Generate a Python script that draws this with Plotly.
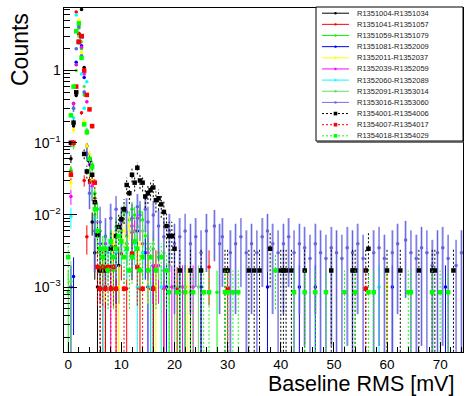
import math
import plotly.graph_objects as go

# ---------------- data (normalised counts per 0.5 mV bin) ----------------
series_names = [
    "R1351004-R1351034", "R1351041-R1351057", "R1351059-R1351079",
    "R1351081-R1352009", "R1352011-R1352037", "R1352039-R1352059",
    "R1352060-R1352089", "R1352091-R1353014", "R1353016-R1353060",
    "R1354001-R1354006", "R1354007-R1354017", "R1354018-R1354029",
]
colors = ["#000000", "#ff0000", "#00ff00", "#0000ff", "#ffff00", "#ff00ff",
          "#00ffff", "#66dd66", "#7272e6", "#000000", "#ff0000", "#00ff00"]
dashed = [False] * 9 + [True] * 3
# value of one entry in each normalised histogram
unit_weight = [1e-3, 9.5e-4, 8.5e-4, 1e-3, 1e-3, 1e-3,
               1e-3, 1e-3, 3.2e-3, 1.7e-3, 9.5e-4, 8.5e-4]

s1_x = [0.5, 1.0, 1.5, 2.0, 2.5, 3.0, 3.5, 4.0, 4.5, 5.0, 5.5, 7.0, 9.5, 16.0]
s1_y = [0.06, 0.17, 0.45, 3.2, 7.0, 1.1, 0.09, 0.03, 0.008, 0.003, 0.001, 0.001, 0.002, 0.001]

s2_x = [0.5, 1.0, 1.5, 2.0, 2.5, 3.0, 3.5, 4.0, 4.5, 5.0, 5.5, 6.0, 6.5, 7.0, 8.5, 9.0,
        10.0, 11.0, 12.0, 13.0, 13.5, 15.5, 16.5, 18.0, 20.5, 26.5, 30.0]
s2_y = [0.04, 0.35, 6.5, 3.3, 0.26, 0.03, 0.005, 0.028, 0.03, 0.017, 0.006, 0.002,
        0.00095, 0.00095, 0.0038, 0.00095, 0.0029, 0.00095, 0.0057, 0.0019, 0.00095,
        0.00095, 0.0019, 0.00095, 0.00095, 0.0019, 0.00095]

s3_x = [0.0, 0.5, 1.0, 1.5, 2.0, 2.5, 3.0, 3.5, 4.0, 4.5, 5.0, 5.5, 6.0, 6.5, 7.0, 8.0,
        8.5, 9.0, 10.0, 10.5, 11.0, 11.5, 12.0, 12.5, 13.0, 13.5, 14.0, 14.5, 15.0, 16.0,
        17.0, 18.0, 19.0, 21.0, 23.0, 28.0]
s3_y = [0.00085, 0.042, 0.3, 1.2, 3.9, 2.0, 0.46, 0.14, 0.06, 0.05, 0.02, 0.012, 0.006,
        0.0034, 0.0051, 0.0043, 0.0017, 0.0068, 0.0085, 0.011, 0.0051, 0.0085, 0.012,
        0.01, 0.0068, 0.011, 0.0085, 0.0051, 0.0034, 0.0034, 0.0026, 0.0017, 0.00085,
        0.00085, 0.00085, 0.00085]

s4_x = [0.5, 1.0, 1.5, 2.0, 2.5, 3.0, 3.5, 4.0, 4.5, 5.0, 5.5, 6.0, 7.0, 8.0, 9.0, 10.0,
        11.0, 12.0, 13.0, 14.5, 15.0, 16.0, 18.5, 20.0, 22.0, 25.0, 37.5, 43.5, 46.5,
        61.0, 71.0]
s4_y = [0.001, 0.0014, 1.3, 4.6, 2.2, 0.8, 0.07, 0.055, 0.02, 0.008, 0.006, 0.004,
        0.003, 0.004, 0.002, 0.006, 0.004, 0.003, 0.006, 0.003, 0.001, 0.002, 0.001,
        0.001, 0.001, 0.001, 0.001, 0.001, 0.001, 0.001, 0.001]

s5_x = [0.5, 1.0, 1.5, 2.0, 2.5, 3.0, 3.5, 4.0, 4.5, 5.0, 5.5, 6.0, 7.0, 8.5, 9.5, 10.5,
        11.5, 12.5, 13.5, 14.0, 15.0, 16.5, 17.5, 22.5, 60.0]
s5_y = [0.028, 0.15, 1.0, 5.0, 1.8, 0.2, 0.09, 0.07, 0.03, 0.01, 0.005, 0.003, 0.002,
        0.004, 0.001, 0.006, 0.007, 0.005, 0.004, 0.003, 0.002, 0.001, 0.001, 0.001, 0.001]

s6_x = [0.5, 1.0, 1.5, 2.0, 2.5, 3.0, 3.5, 4.0, 4.5, 5.0, 5.5, 6.0, 7.0, 8.0, 9.0, 10.0,
        11.0, 12.0, 12.5, 13.0, 14.0, 15.0, 16.0, 17.0, 18.0, 19.5, 21.5, 23.5]
s6_y = [0.018, 0.35, 1.2, 4.3, 2.1, 0.9, 0.37, 0.05, 0.025, 0.012, 0.006, 0.003,
        0.004, 0.001, 0.003, 0.006, 0.004, 0.007, 0.006, 0.009, 0.004, 0.003, 0.002,
        0.002, 0.001, 0.001, 0.001, 0.001]

s7_x = [0.5, 1.0, 1.5, 2.0, 2.5, 3.0, 3.5, 4.0, 4.5, 5.0, 5.5, 6.0, 6.5, 7.5, 8.0, 9.0,
        10.0, 11.0, 12.5, 13.0, 14.0, 15.5, 17.5, 20.0, 21.0, 58.5]
s7_y = [0.0095, 0.22, 5.9, 2.4, 0.9, 0.3, 0.7, 0.06, 0.02, 0.009, 0.005, 0.003, 0.001,
        0.003, 0.004, 0.003, 0.004, 0.003, 0.004, 0.001, 0.003, 0.001, 0.001, 0.001,
        0.001, 0.001]

s8_x = [0.5, 1.0, 1.5, 2.0, 2.5, 3.0, 3.5, 4.0, 4.5, 5.0, 5.5, 6.0, 7.0, 8.0, 9.0,
        10.0, 11.0, 12.0, 13.0, 14.0, 15.0, 16.0, 17.0, 18.0, 19.0, 20.0, 21.0, 22.0, 24.5]
s8_y = [0.0012, 0.09, 1.0, 3.0, 2.5, 0.6, 0.15, 0.04, 0.02, 0.01, 0.005, 0.003,
        0.003, 0.004, 0.006, 0.006, 0.004, 0.006, 0.007, 0.006, 0.004, 0.004,
        0.003, 0.003, 0.002, 0.001, 0.001, 0.001, 0.001]

s9_x = [1.0, 1.5, 2.0, 2.5, 3.0, 3.5, 4.0, 5.0, 6.0, 7.0, 8.0, 9.0, 10.0, 11.0, 12.0,
        13.0, 13.5, 14.5, 15.0, 16.0, 17.0, 18.0, 19.0, 20.0, 21.0, 22.0, 23.0, 24.0,
        25.0, 26.0, 27.5, 28.5, 29.0, 30.5, 31.5, 32.5, 33.5, 34.5, 35.5, 36.5, 37.5,
        38.5, 39.5, 40.5, 41.5, 42.5, 43.5, 44.5, 45.5, 46.5, 47.5, 48.5, 49.5, 50.5,
        51.5, 52.5, 53.5, 54.5, 55.5, 57.5, 58.5, 59.5, 61.0, 62.0, 63.5, 64.5, 65.5,
        66.5, 67.5, 68.5, 69.5, 70.5, 71.5, 73.0, 74.0]
s9_y = [0.3, 2.0, 4.0, 1.6, 0.5, 0.07, 0.02, 0.006, 0.008, 0.005, 0.009, 0.012, 0.008,
        0.011, 0.009, 0.013, 0.01, 0.012, 0.008, 0.01, 0.007, 0.005, 0.006, 0.004,
        0.005, 0.006, 0.004, 0.005, 0.003, 0.006, 0.007, 0.004, 0.005, 0.003, 0.004,
        0.005, 0.003, 0.004, 0.003, 0.005, 0.006, 0.004, 0.003, 0.004, 0.005, 0.003,
        0.004, 0.0035, 0.0025, 0.004, 0.003, 0.0025, 0.0035, 0.003, 0.0025, 0.0035,
        0.003, 0.004, 0.0025, 0.003, 0.0035, 0.0025, 0.003, 0.004, 0.0045, 0.003,
        0.0025, 0.0035, 0.003, 0.002, 0.003, 0.0035, 0.0025, 0.002, 0.003]

s10_x = [0.5, 1.0, 1.5, 2.0, 2.5, 3.0, 3.5, 4.0, 4.5, 5.0, 5.5, 6.0, 7.0, 8.0, 9.0,
         9.5, 10.0, 10.5, 11.0, 11.5, 12.0, 12.5, 13.0, 13.5, 14.0, 14.5, 15.0, 15.5,
         16.0, 16.5, 17.0, 17.5, 18.0, 18.5, 19.0, 19.5, 20.0, 21.0, 23.0, 25.0, 29.5,
         30.0, 34.0, 35.0, 36.0, 38.0, 40.0, 40.5, 41.0, 42.0, 44.5, 49.5, 53.5, 54.0,
         56.0, 56.5, 60.0, 62.5, 66.0, 68.5, 69.0, 72.5]
s10_y = [0.1, 0.19, 0.5, 2.5, 3.0, 0.07, 0.04, 0.058, 0.036, 0.015, 0.0053, 0.0017,
         0.0017, 0.0034, 0.0051, 0.0068, 0.0087, 0.012, 0.026, 0.02, 0.036, 0.028,
         0.045, 0.03, 0.028, 0.018, 0.02, 0.022, 0.024, 0.016, 0.017, 0.014, 0.011,
         0.007, 0.0051, 0.0051, 0.0034, 0.0017, 0.0017, 0.0017, 0.0017, 0.0017, 0.0017,
         0.0017, 0.0017, 0.0034, 0.0017, 0.0017, 0.0017, 0.0017, 0.0017, 0.0017,
         0.0017, 0.0017, 0.0017, 0.0034, 0.0017, 0.0017, 0.0017, 0.0017, 0.0017, 0.0017]

s11_x = [0.5, 1.0, 1.5, 2.0, 2.5, 3.0, 3.5, 4.0, 4.5, 5.0, 5.5, 6.0, 6.5, 7.0, 7.5,
         8.0, 8.5, 9.0, 10.5, 12.0, 13.0, 14.0, 16.0, 30.0, 56.0]
s11_y = [0.036, 0.1, 0.6, 2.5, 3.0, 1.0, 0.46, 0.29, 0.17, 0.028, 0.0019, 0.00095,
         0.0019, 0.00095, 0.0019, 0.00095, 0.0019, 0.00095, 0.00095, 0.0029, 0.0019,
         0.00095, 0.00095, 0.00095, 0.00095]

s12_x = [0.0, 0.5, 1.0, 1.5, 2.0, 2.5, 3.0, 3.5, 4.0, 4.5, 5.0, 5.5, 6.0, 6.5, 7.0, 7.5,
         8.0, 8.5, 9.0, 9.5, 10.0, 10.5, 11.0, 11.5, 12.0, 12.5, 13.0, 13.5, 14.0, 15.0,
         15.5, 16.5, 17.5, 18.5, 19.0, 20.5, 22.0, 23.5, 25.5, 26.5, 29.5, 30.0, 31.0,
         32.0, 39.0, 42.5, 44.5, 46.5, 48.5, 52.0, 54.0, 56.5, 57.5, 64.0, 64.5, 68.5,
         70.0, 71.5]
s12_y = [0.0026, 0.24, 0.6, 3.5, 4.5, 1.5, 0.18, 0.14, 0.06, 0.046, 0.012, 0.006,
         0.0034, 0.0026, 0.0034, 0.0017, 0.0043, 0.0026, 0.0034, 0.0051, 0.0043, 0.0026,
         0.0034, 0.0017, 0.0026, 0.0043, 0.0034, 0.0017, 0.0026, 0.0017, 0.0026, 0.0017,
         0.0026, 0.0017, 0.00085, 0.00085, 0.00085, 0.00085, 0.00085, 0.00085, 0.00085,
         0.00085, 0.00085, 0.00085, 0.0017, 0.00085, 0.00085, 0.00085, 0.00085, 0.00085,
         0.00085, 0.00085, 0.00085, 0.00085, 0.00085, 0.00085, 0.00085, 0.00085]

x_ticks = [0, 10, 20, 30, 40, 50, 60, 70]
x_title = "Baseline RMS [mV]"
y_title = "Counts"

all_x = [s1_x, s2_x, s3_x, s4_x, s5_x, s6_x, s7_x, s8_x, s9_x, s10_x, s11_x, s12_x]
all_y = [s1_y, s2_y, s3_y, s4_y, s5_y, s6_y, s7_y, s8_y, s9_y, s10_y, s11_y, s12_y]

BIN_HALF = 0.25
FLOOR = 1e-7

fig = go.Figure()

for i in range(12):
    xs, ys, w = all_x[i], all_y[i], unit_weight[i]
    seg_x, seg_y = [], []
    box_x, box_base, box_len = [], [], []
    for x, y in zip(xs, ys):
        e = math.sqrt(y * w)
        lo = y - e
        if lo <= 0:
            lo = FLOOR
        hi = y + e
        seg_x += [x, x, None, x - BIN_HALF, x + BIN_HALF, None]
        seg_y += [lo, hi, None, y, y, None]
        box_x.append(x)
        box_base.append(lo)
        box_len.append(hi - lo)
    if i == 8:
        fig.add_trace(go.Bar(x=box_x, y=box_len, base=box_base, width=0.5,
                             marker=dict(color="rgba(140,140,235,0.35)", line=dict(width=0)),
                             hoverinfo="skip", showlegend=False))
    line_col = "#6262e2" if i == 8 else colors[i]
    fig.add_trace(go.Scatter(
        x=seg_x, y=seg_y, mode="lines",
        line=dict(color=line_col, width=1, dash="2px,2px" if dashed[i] else "solid"),
        hoverinfo="skip", showlegend=False))
    fig.add_trace(go.Scatter(
        x=xs, y=ys, mode="markers",
        marker=dict(symbol="square" if dashed[i] else "circle",
                    size=4.5 if dashed[i] else 3.5, color=line_col,
                    line=dict(width=0)),
        name=series_names[i], showlegend=False))

# ---------------- layout ----------------
L, R, T, B = 64, 8, 8, 44
W, H = 471, 396
PW, PH = W - L - R, H - T - B


def px(xp):
    return (xp - L) / PW


def py(yp):
    return (H - B - yp) / PH


fig.update_layout(
    width=W, height=H, margin=dict(l=L, r=R, t=T, b=B, autoexpand=False),
    plot_bgcolor="white", paper_bgcolor="white", showlegend=False,
    barmode="overlay", bargap=0,
    font=dict(family="Liberation Sans, Arial, sans-serif", color="black"),
)
fig.update_xaxes(
    range=[-0.8, 74.3], showline=True, linecolor="black", linewidth=1, mirror=True,
    ticks="inside", ticklen=10, tickcolor="black", tickvals=x_ticks,
    tickfont=dict(size=13.5, color="black"), showgrid=False, zeroline=False,
    minor=dict(ticks="inside", ticklen=5, dtick=2, tick0=0, tickcolor="black", showgrid=False),
)
fig.update_yaxes(
    type="log", range=[-3.899, 0.867], showline=True, linecolor="black", linewidth=1,
    mirror=True, ticks="inside", ticklen=13, tickcolor="black", dtick=1,
    exponentformat="power", tickfont=dict(size=11.2, color="black"),
    showgrid=False, zeroline=False,
    minor=dict(ticks="inside", ticklen=6, dtick="D1", tickcolor="black", showgrid=False),
)

annotations = [
    dict(text=y_title, xref="paper", yref="paper", x=px(20), y=py(50), textangle=-90,
         showarrow=False, font=dict(size=23, color="black"), xanchor="center", yanchor="middle"),
    dict(text=x_title, xref="paper", yref="paper", x=px(456), y=py(384.3),
         showarrow=False, font=dict(size=21.5, color="black"), xanchor="right", yanchor="middle"),
]

shapes = []
# legend box with shadow
shapes.append(dict(type="rect", xref="paper", yref="paper", x0=px(316), x1=px(463),
                   y0=py(141), y1=py(7), fillcolor="white",
                   line=dict(color="black", width=1), layer="above"))
shapes.append(dict(type="line", xref="paper", yref="paper", x0=px(317), x1=px(464),
                   y0=py(142), y1=py(142), line=dict(color="#444444", width=1.5), layer="above"))

row0, drow = 13.2, 11.15
for i in range(12):
    yr = row0 + drow * i
    shapes.append(dict(type="line", xref="paper", yref="paper", x0=px(322), x1=px(349),
                       y0=py(yr), y1=py(yr),
                       line=dict(color=colors[i], width=1, dash="2px,2px" if dashed[i] else "solid"),
                       layer="above"))
    r = 1.8 if dashed[i] else 1.2
    shapes.append(dict(type="rect" if dashed[i] else "circle", xref="paper", yref="paper",
                       x0=px(335.5 - r), x1=px(335.5 + r), y0=py(yr + r), y1=py(yr - r),
                       fillcolor=colors[i] if i != 8 else "#6262e2", line=dict(width=0),
                       layer="above"))
    annotations.append(dict(text=series_names[i], xref="paper", yref="paper",
                            x=px(355), y=py(yr), xanchor="left", yanchor="middle",
                            showarrow=False, font=dict(size=7.5, color="#222222")))

fig.update_layout(annotations=annotations, shapes=shapes)
fig.write_html("out.html", config={"displayModeBar": False},
               post_script="document.body.style.margin='0';document.body.style.padding='0';")
